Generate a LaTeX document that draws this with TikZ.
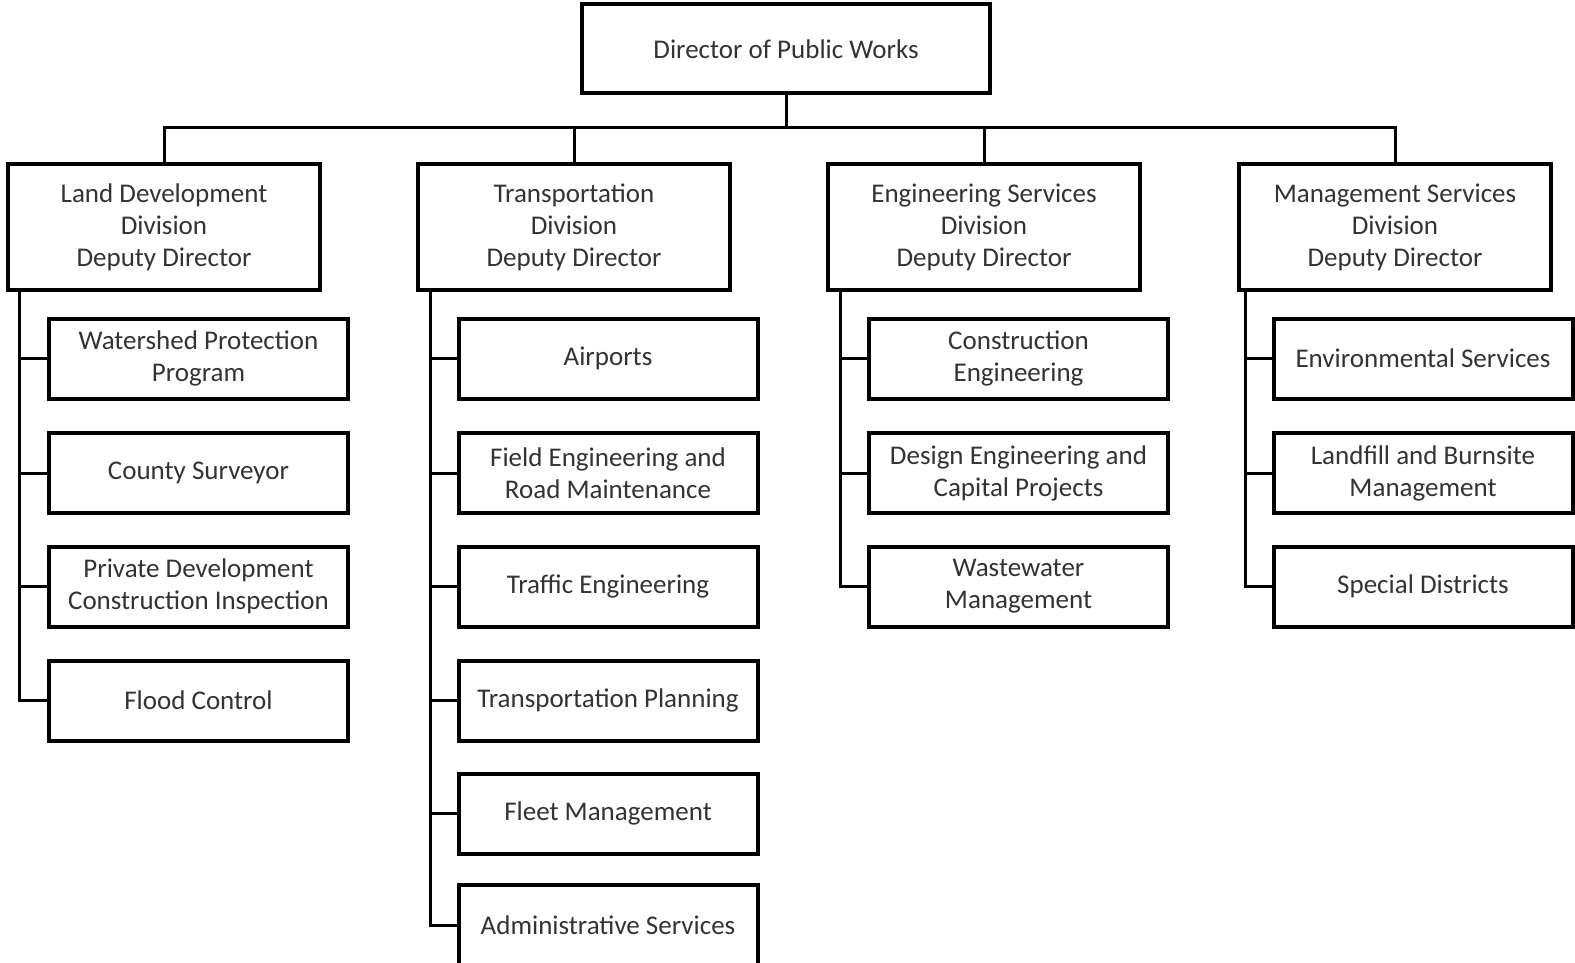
\documentclass[tikz,border=0pt]{standalone}
\usepackage{fontspec}
\setmainfont{Carlito}
\begin{document}
\begin{tikzpicture}[x=1pt,y=-1pt,
  box/.style={draw=black,line width=4pt,fill=white,align=center,inner sep=2pt,
    text=black!80,font=\fontsize{27}{32}\selectfont},
  topbox/.style={box,minimum width=408pt,minimum height=89pt},
  divbox/.style={box,minimum width=312pt,minimum height=125pt},
  subbox/.style={box,minimum width=299pt,minimum height=80pt},
  conn/.style={draw=black,line width=3pt}]
\useasboundingbox (0,0) rectangle (1575,963);
% top
\node[topbox] (top) at (786,49) {Director of Public Works};
% divisions
\node[divbox] (land) at (164,227) {Land Development\\Division\\Deputy Director};
\node[divbox] (trans) at (574,227) {Transportation\\Division\\Deputy Director};
\node[divbox] (eng) at (984,227) {Engineering Services\\Division\\Deputy Director};
\node[divbox] (mgmt) at (1395,227) {Management Services\\Division\\Deputy Director};
% land children
\node[subbox] (l1) at (198.5,358.5) {Watershed Protection\\Program};
\node[subbox] (l2) at (198.5,473) {County Surveyor};
\node[subbox] (l3) at (198.5,586.5) {Private Development\\Construction Inspection};
\node[subbox] (l4) at (198.5,700.5) {Flood Control};
% transportation children
\node[subbox] (t1) at (608,358.5) {Airports};
\node[subbox] (t2) at (608,473) {Field Engineering and\\Road Maintenance};
\node[subbox] (t3) at (608,586.5) {Traffic Engineering};
\node[subbox] (t4) at (608,700.5) {Transportation Planning};
\node[subbox] (t5) at (608,813.5) {Fleet Management};
\node[subbox] (t6) at (608,925) {Administrative Services};
% engineering children
\node[subbox] (e1) at (1018.5,358.5) {Construction\\Engineering};
\node[subbox] (e2) at (1018.5,473) {Design Engineering and\\Capital Projects};
\node[subbox] (e3) at (1018.5,586.5) {Wastewater\\Management};
% management children
\node[subbox] (m1) at (1423,358.5) {Environmental Services};
\node[subbox] (m2) at (1423,473) {Landfill and Burnsite\\Management};
\node[subbox] (m3) at (1423,586.5) {Special Districts};
% connectors
\coordinate (bus) at (786,127.5);
\draw[conn] (top.south) -- (bus);
\draw[conn] (bus) -| (land.north);
\draw[conn] (bus) -| (trans.north);
\draw[conn] (bus) -| (eng.north);
\draw[conn] (bus) -| (mgmt.north);
\coordinate (lv) at (19.5,291);
\coordinate (tv) at (430,291);
\coordinate (ev) at (840,291);
\coordinate (mv) at (1245,291);
\foreach \c in {l1,l2,l3,l4} \draw[conn] (lv) |- (\c.west);
\foreach \c in {t1,t2,t3,t4,t5,t6} \draw[conn] (tv) |- (\c.west);
\foreach \c in {e1,e2,e3} \draw[conn] (ev) |- (\c.west);
\foreach \c in {m1,m2,m3} \draw[conn] (mv) |- (\c.west);
\end{tikzpicture}
\end{document}
